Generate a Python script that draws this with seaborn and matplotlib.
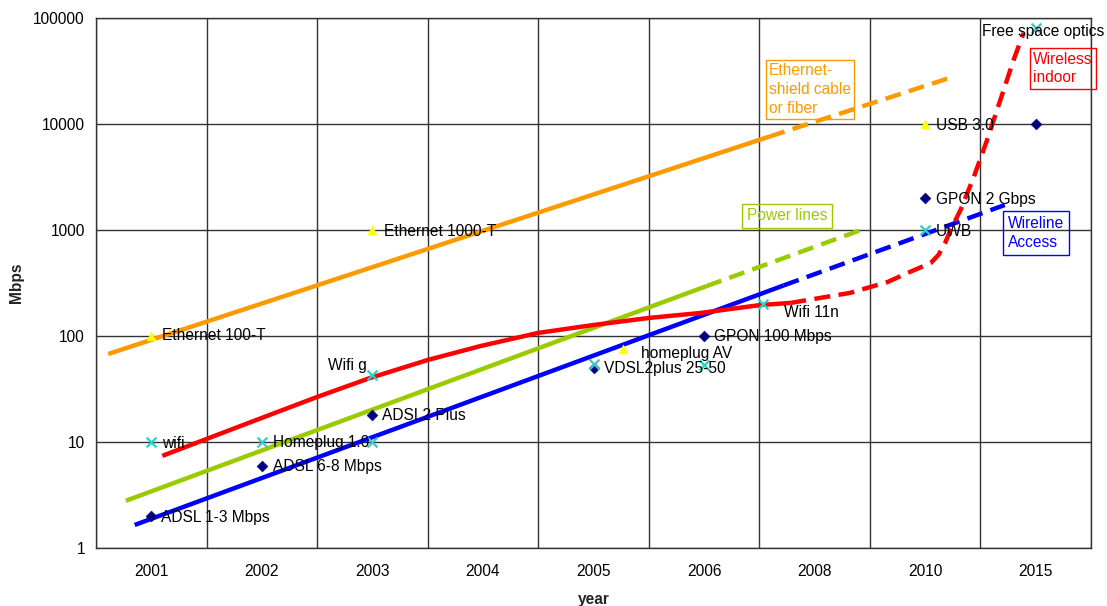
import numpy as np
import pandas as pd
import matplotlib
matplotlib.use("Agg")
import matplotlib.pyplot as plt
from matplotlib.ticker import FixedLocator, NullLocator, FuncFormatter
import seaborn as sns

# ---- categories -------------------------------------------------------------
years = ["2001", "2002", "2003", "2004", "2005", "2006", "2008", "2010", "2015"]

# ---- technology data points (x = category position, y = Mbps) --------------
eth_names = ["Ethernet 100-T", "Ethernet 1000-T", "homeplug AV", "USB 3.0"]
eth_x = [0, 2, 4.27, 7]
eth_mbps = [100, 1000, 75, 10000]

access_names = ["ADSL 1-3 Mbps", "ADSL 6-8 Mbps", "ADSL2 Plus", "VDSL2plus 25-50",
                "GPON 100 Mbps", "GPON 2 Gbps", ""]
access_x = [0, 1, 2, 4, 5, 7, 8]
access_mbps = [2, 6, 18, 50, 100, 2000, 10000]

wireless_names = ["wifi", "Homeplug 1.0", "Wifi g", "", "", "", "Wifi 11n", "UWB",
                  "Free space optics"]
wireless_x = [0, 1, 2, 2, 4, 5, 5.53, 7, 8]
wireless_mbps = [10, 10, 43, 10, 55, 53, 200, 1000, 80000]

# ---- trend lines: measured part (solid) and forecast part (dashed) ---------
ethernet_x_solid = [-0.39, 5.59]
ethernet_y_solid = [67.6, 7600]
ethernet_x_dash = [5.59, 7.22]
ethernet_y_dash = [7600, 27200]

power_x_solid = [-0.23, 5.02]
power_y_solid = [2.79, 295]
power_x_dash = [5.02, 6.47]
power_y_dash = [295, 1045]

wireline_x_solid = [-0.15, 5.72]
wireline_y_solid = [1.65, 300]
wireline_x_dash = [5.72, 7.72]
wireline_y_dash = [300, 1722]

wireless_x_solid = [0.10, 0.81, 1.50, 1.98, 2.50, 2.98, 3.50, 4.00, 4.50, 4.97, 5.51, 5.78]
wireless_y_solid = [7.4, 14.2, 26.6, 40.2, 59.4, 80.5, 107, 127, 148, 165, 196, 205]
wireless_x_dash = [5.78, 6.32, 6.66, 6.84, 7.05, 7.12, 7.18, 7.23, 7.32, 7.44, 7.56,
                   7.68, 7.80, 7.89]
wireless_y_dash = [205, 255, 323, 393, 488, 581, 754, 1000, 1545, 3162, 7060, 16840,
                   40170, 72200]

# ---- styling ----------------------------------------------------------------
sns.set_style("white")
plt.rcParams["font.family"] = ["Liberation Sans", "DejaVu Sans"]

C_ORANGE = "#FF9900"
C_GREEN = "#99CC00"
C_BLUE = "#0000FF"
C_RED = "#FF0000"
C_NAVY = "#000080"
C_CYAN = "#33CCCC"
C_YELLOW = "#FFFF00"
GRID = "#333333"
FS = 11.2

fig = plt.figure(figsize=(11.07, 6.06), dpi=100)
ax = fig.add_axes([96 / 1107, 1 - 548 / 606, 995 / 1107, 530 / 606])

# axes, grid and ticks
ax.set_yscale("log")
ax.set_xlim(-0.5, 8.5)
ax.set_ylim(1, 100000)
ax.xaxis.set_major_locator(FixedLocator(range(len(years))))
ax.set_xticklabels(years)
ax.xaxis.set_minor_locator(FixedLocator(np.arange(-0.5, len(years), 1.0)))
ax.yaxis.set_major_locator(FixedLocator([1, 10, 100, 1000, 10000, 100000]))
ax.yaxis.set_minor_locator(NullLocator())
ax.yaxis.set_major_formatter(FuncFormatter(lambda v, p: f"{int(round(v))}"))
ax.grid(which="minor", axis="x", color=GRID, lw=1)
ax.grid(which="major", axis="y", color=GRID, lw=1)
ax.grid(which="major", axis="x", visible=False)
ax.tick_params(axis="x", which="major", length=0, pad=11.5, labelsize=FS, colors="black")
ax.tick_params(axis="x", which="minor", length=4, width=1, color=GRID, direction="out")
ax.tick_params(axis="y", which="major", length=4, width=1, color=GRID, direction="out",
               pad=4, labelsize=FS, labelcolor="black")
for s in ax.spines.values():
    s.set_color(GRID)
    s.set_linewidth(1)
ax.set_axisbelow(True)

# trend lines
LW = 3.2
DASH = (3.6, 1.9)
trends = [
    (ethernet_x_solid, ethernet_y_solid, ethernet_x_dash, ethernet_y_dash, C_ORANGE),
    (power_x_solid, power_y_solid, power_x_dash, power_y_dash, C_GREEN),
    (wireline_x_solid, wireline_y_solid, wireline_x_dash, wireline_y_dash, C_BLUE),
    (wireless_x_solid, wireless_y_solid, wireless_x_dash, wireless_y_dash, C_RED),
]
for xs, ys, xd, yd, col in trends:
    sns.lineplot(x=xs, y=ys, ax=ax, color=col, lw=LW, sort=False, estimator=None,
                 solid_capstyle="butt", solid_joinstyle="round")
    sns.lineplot(x=xd, y=yd, ax=ax, color=col, lw=LW, sort=False, estimator=None,
                 linestyle=(0, DASH), dash_capstyle="butt", dash_joinstyle="round")

# technology markers
df_eth = pd.DataFrame({"x": eth_x, "y": eth_mbps})
df_acc = pd.DataFrame({"x": access_x, "y": access_mbps})
df_wl = pd.DataFrame({"x": wireless_x, "y": wireless_mbps})
sns.scatterplot(data=df_eth, x="x", y="y", ax=ax, marker="^", s=40, color=C_YELLOW,
                edgecolor=C_YELLOW, zorder=4)
sns.scatterplot(data=df_acc, x="x", y="y", ax=ax, marker="D", s=30, color=C_NAVY,
                edgecolor=C_NAVY, zorder=4)
sns.scatterplot(data=df_wl, x="x", y="y", ax=ax, marker="x", s=50, color=C_CYAN,
                linewidth=1.6, zorder=4)

ax.set_xlabel("year", fontsize=FS, fontweight="bold")
ax.set_ylabel("Mbps", fontsize=FS, fontweight="bold")
ax.xaxis.set_label_coords(0.5, -0.083)
ax.yaxis.set_label_coords(-0.072, 0.5)

# point labels: (dx, dy, ha) in pixels relative to the marker
eth_offsets = [(11, 0, "left"), (12, -1, "left"), (18, -4, "left"), (11, -1, "left")]
access_offsets = [(10, -1, "left"), (11, -1, "left"), (10, -1, "left"), (11, -1, "left"),
                  (10, -1, "left"), (11, -1, "left"), (0, 0, "left")]
wireless_offsets = [(11, -1, "left"), (11, -1, "left"), (-6, 9, "right"), (0, 0, "left"),
                    (0, 0, "left"), (0, 0, "left"), (21, -8, "left"), (11, -1, "left"),
                    (7, -3, "center")]
for names, xs, ys, offs in [(eth_names, eth_x, eth_mbps, eth_offsets),
                            (access_names, access_x, access_mbps, access_offsets),
                            (wireless_names, wireless_x, wireless_mbps, wireless_offsets)]:
    for name, x, y, (dx, dy, ha) in zip(names, xs, ys, offs):
        if name:
            ax.annotate(name, xy=(x, y), xytext=(dx, dy), textcoords="offset pixels",
                        ha=ha, va="center", fontsize=FS, color="black",
                        annotation_clip=False, zorder=5)

# boxed trend-line captions
def caption(px_left, py_center, text, col, pad=0.22):
    ax.text((px_left - 96) / 995, (548 - py_center) / 530, text, transform=ax.transAxes,
            ha="left", va="center", fontsize=FS, color=col, linespacing=1.32,
            bbox=dict(boxstyle=f"square,pad={pad}", fc="none", ec=col, lw=1), zorder=3)

caption(769, 89.5, "Ethernet-\nshield cable\nor fiber", C_ORANGE)
caption(747, 216, "Power lines", C_GREEN, pad=0.3)
caption(1008, 233, "Wireline\nAccess", C_BLUE, pad=0.3)
caption(1033, 68.5, "Wireless\nindoor", C_RED)

fig.savefig("out.png", dpi=100)
